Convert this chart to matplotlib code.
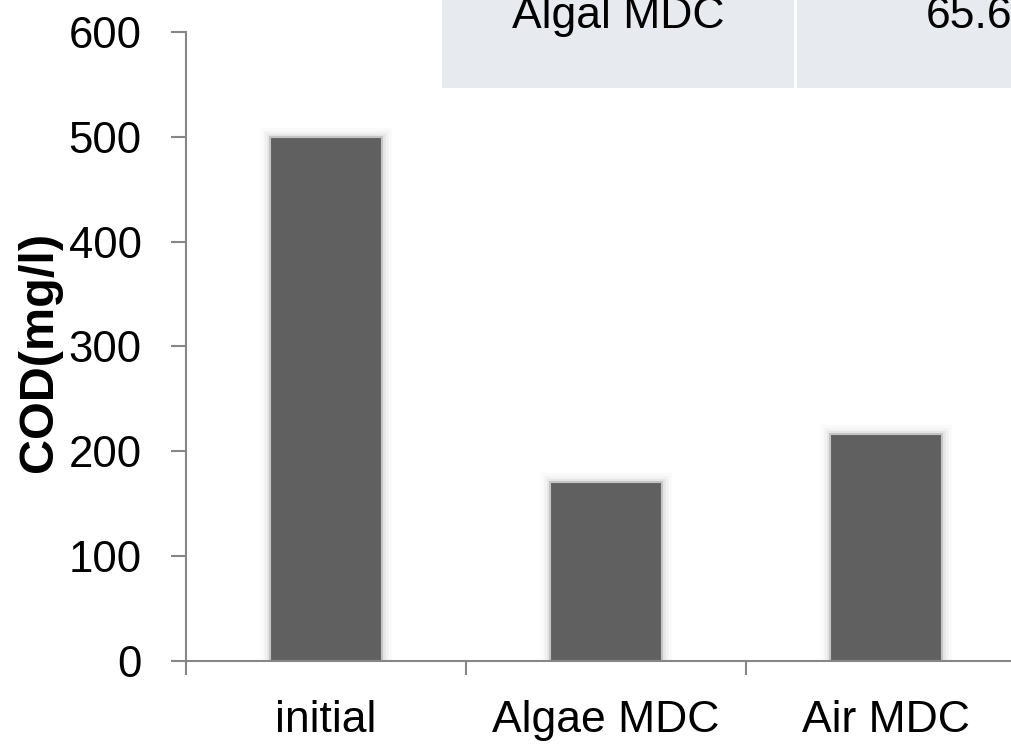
import matplotlib
matplotlib.use("Agg")
import matplotlib.pyplot as plt
import matplotlib.patheffects as pe
from matplotlib.patches import Rectangle

# --- data -------------------------------------------------------------
categories = ["initial", "Algae MDC", "Air MDC"]
cod_values = [500, 171, 216]
y_ticks = [0, 100, 200, 300, 400, 500, 600]
y_label = "COD(mg/l)"
table_row = ["Algal MDC", "65.64%"]

# --- style ------------------------------------------------------------
FONT = "Liberation Sans"
AXIS_GREY = "#868686"
BAR_COLOR = "#606060"
CELL_COLOR = "#e7ebf0"

W, H, DPI = 1011, 747, 100
fig = plt.figure(figsize=(W / DPI, H / DPI), dpi=DPI)
fig.patch.set_facecolor("white")

# axes rectangle in pixels: x from 186 to 1026 (runs past the right edge), y 0 at 660.7, 600 at 32
left_px, right_px = 186, 1026
bottom_px, top_px = 660.7, 32
ax = fig.add_axes([left_px / W, 1 - bottom_px / H,
                   (right_px - left_px) / W, (bottom_px - top_px) / H])

x = list(range(len(categories)))
glow = [
    pe.Stroke(linewidth=14, foreground="black", alpha=0.02),
    pe.Stroke(linewidth=9, foreground="black", alpha=0.03),
    pe.Stroke(linewidth=5, foreground="black", alpha=0.045),
    pe.Normal(),
]
bars = ax.bar(x, cod_values, width=0.4, color=BAR_COLOR,
              edgecolor="#c4c4c4", linewidth=1.5, zorder=2)
for b in bars:
    b.set_path_effects(glow)

ax.set_xlim(-0.5, len(categories) - 0.5)
ax.set_ylim(0, 600)

for side in ("top", "right"):
    ax.spines[side].set_visible(False)
for side in ("left", "bottom"):
    ax.spines[side].set_color(AXIS_GREY)
    ax.spines[side].set_linewidth(1.5)
    ax.spines[side].set_zorder(3)

ax.set_yticks(y_ticks)
ax.set_yticklabels([str(v) for v in y_ticks], fontfamily=FONT, fontsize=31.5)
ax.tick_params(axis="y", direction="out", length=10.8, width=1.5,
               color=AXIS_GREY, pad=21)

# category labels at bar centres, tick marks at category boundaries
ax.set_xticks(x)
ax.set_xticklabels(categories, fontfamily=FONT, fontsize=32)
ax.set_xticks([i - 0.5 for i in range(len(categories) + 1)], minor=True)
ax.tick_params(axis="x", which="major", length=0, pad=28)
ax.tick_params(axis="x", which="minor", direction="out", length=10,
               width=1.5, color=AXIS_GREY)

fig.text(40 / W, 1 - 352 / H, y_label, rotation=90, ha="center", va="center",
         fontfamily=FONT, fontweight="bold", fontsize=35)

# partial results table along the top edge
cells = [(442, 794), (797, 1200)]
for (x0, x1) in cells:
    fig.patches.append(Rectangle((x0 / W, 1 - 88 / H), (x1 - x0) / W, 88 / H + 0.01,
                                 transform=fig.transFigure, facecolor=CELL_COLOR,
                                 edgecolor="none", zorder=0))
fig.text((cells[0][0] + cells[0][1]) / 2 / W, 1 - 28 / H, table_row[0],
         ha="center", va="baseline", fontfamily=FONT, fontsize=32)
fig.text(926 / W, 1 - 28 / H, table_row[1],
         ha="left", va="baseline", fontfamily=FONT, fontsize=32)

fig.savefig("out.png", dpi=DPI)
